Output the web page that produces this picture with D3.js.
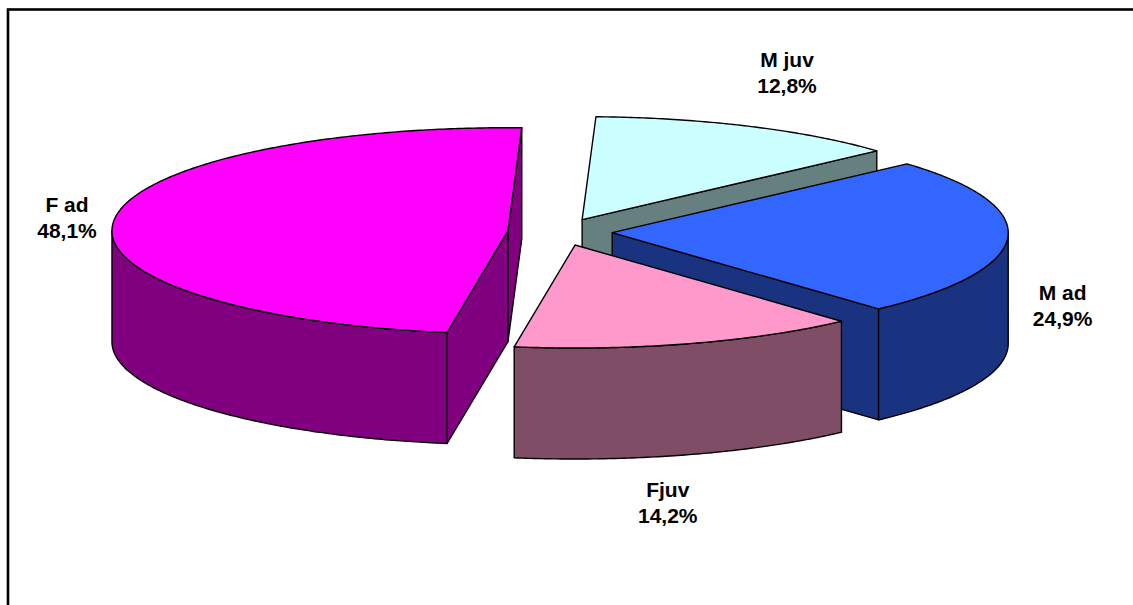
<!DOCTYPE html>
<html>
<head>
<meta charset="utf-8">
<script src="https://cdn.jsdelivr.net/npm/d3@7"></script>
<style>
  html, body { margin: 0; padding: 0; background: #fff; }
  svg { display: block; }
  text { font-family: "Liberation Sans", Arial, sans-serif; font-weight: bold; fill: #000; }
</style>
</head>
<body>
<svg id="chart" width="1133" height="605"></svg>
<script>
// Population structure: share of each sex / age class
const categories = ["M juv", "M ad", "Fjuv", "F ad"];
const shares = [12.8, 24.9, 14.2, 48.1];
const valueLabels = ["12,8%", "24,9%", "14,2%", "48,1%"];

// Appearance
const topColors  = ["#CCFFFF", "#3366FF", "#FF99CC", "#FF00FF"];
const sideColors = ["#668080", "#1A3380", "#804D66", "#800080"];

// 3D pie layout
const cx = 560, cy = 232;      // centre of the top ellipse (unexploded)
const rx = 396, ry = 103;      // ellipse radii
const depth = 111;             // thickness of the pie
const explode = 0.132;         // fraction of the radius each slice is pulled out
const startDeg = 2;
const labelGap = 55;
const labelNudge = [[14, -52], [0, 17], [-37, 58], [8, -46]];

const svg = d3.select("#chart");

// chart frame
svg.append("rect")
  .attr("x", 8).attr("y", 9.5)
  .attr("width", 1200).attr("height", 700)
  .attr("fill", "none").attr("stroke", "#000").attr("stroke-width", 2.6);

const pie = d3.pie().sort(null).value(d => d)
  .startAngle(startDeg * Math.PI / 180)
  .endAngle(startDeg * Math.PI / 180 + 2 * Math.PI);

const arcs = pie(shares).map((a, i) => {
  const mid = (a.startAngle + a.endAngle) / 2;
  const ox = cx + explode * rx * Math.sin(mid);
  const oy = cy - explode * ry * Math.cos(mid);
  return { ...a, i, mid, ox, oy };
});

const line = d3.line();
const pt = (s, t, z) => [s.ox + rx * Math.sin(t), s.oy - ry * Math.cos(t) + z];
function arcPts(s, t0, t1, z) {
  const n = Math.max(2, Math.ceil(Math.abs(t1 - t0) / 0.01));
  return d3.range(n + 1).map(k => pt(s, t0 + (t1 - t0) * k / n, z));
}

// back slices first
const order = arcs.slice().sort((a, b) => Math.cos(b.mid) - Math.cos(a.mid));

const g = svg.append("g")
  .attr("stroke", "#000").attr("stroke-width", 1.4).attr("stroke-linejoin", "round");

order.forEach(s => {
  const sg = g.append("g");
  const a0 = s.startAngle, a1 = s.endAngle;
  const apexTop = [s.ox, s.oy], apexBot = [s.ox, s.oy + depth];

  // radial cut faces
  if (Math.sin(a0) < 0) {
    sg.append("path").attr("fill", sideColors[s.i])
      .attr("d", line([apexTop, pt(s, a0, 0), pt(s, a0, depth), apexBot]) + "Z");
  }
  if (Math.sin(a1) > 0) {
    sg.append("path").attr("fill", sideColors[s.i])
      .attr("d", line([apexTop, pt(s, a1, 0), pt(s, a1, depth), apexBot]) + "Z");
  }

  // outer wall (front half only)
  const w0 = Math.max(a0, Math.PI / 2), w1 = Math.min(a1, 3 * Math.PI / 2);
  if (w1 > w0) {
    const pts = arcPts(s, w0, w1, 0).concat(arcPts(s, w1, w0, depth));
    sg.append("path").attr("fill", sideColors[s.i]).attr("d", line(pts) + "Z");
  }

  // top face
  const topPts = [apexTop].concat(arcPts(s, a0, a1, 0));
  sg.append("path").attr("fill", topColors[s.i]).attr("d", line(topPts) + "Z");
});

// data labels
const labels = svg.append("g").attr("text-anchor", "middle").style("font-size", "21px");
arcs.forEach(s => {
  const lx = s.ox + (rx + labelGap) * Math.sin(s.mid) + labelNudge[s.i][0];
  const ly = s.oy - (ry + labelGap) * Math.cos(s.mid) + depth / 2 + labelNudge[s.i][1];
  const t = labels.append("text").attr("x", lx).attr("y", ly);
  t.append("tspan").attr("x", lx).attr("y", ly - 13).text(categories[s.i]);
  t.append("tspan").attr("x", lx).attr("y", ly + 13).text(valueLabels[s.i]);
});
</script>
</body>
</html>
